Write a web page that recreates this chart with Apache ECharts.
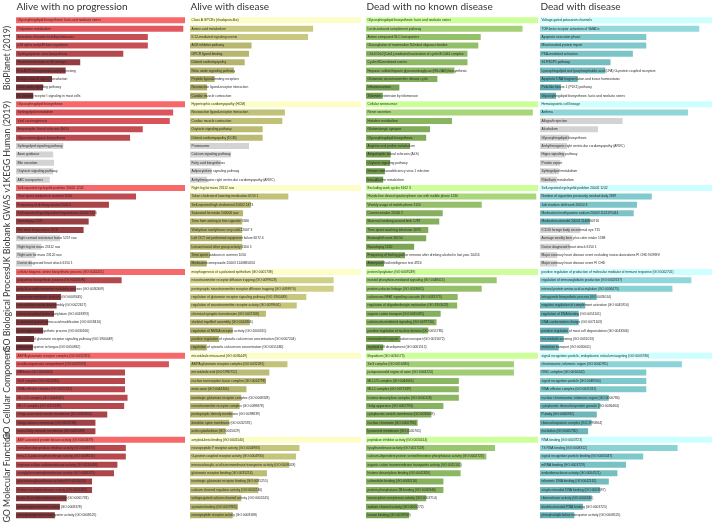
<!DOCTYPE html>
<html><head><meta charset="utf-8">
<script src="https://cdn.jsdelivr.net/npm/echarts/dist/echarts.min.js"></script>
<style>html,body{margin:0;padding:0;background:#fff}#c{width:717px;height:526px}</style>
</head><body><div id="c"></div>
<script>
// ---------------- DATA ----------------
const columnTitles = ["Alive with no progression", "Alive with disease", "Dead with no known disease", "Dead with disease"];
const groupNames = ["BioPlanet (2019)", "KEGG Human (2019)", "UK Biobank GWAS v1", "GO Biological Process", "GO Cellular Component", "GO Molecular Function"];

const labels1 = [
"Glycosphingolipid biosynthesis: lacto and neolacto series","Polyamine metabolism","Activation of matrix metalloproteinases","p38 alpha and p38 beta regulation","Sphingolipid de novo biosynthesis","Bacterial infections in CF airways","Pre-NOTCH expression and processing","Antigen-bound signal transduction","Nitric oxide signaling pathway","Fc epsilon receptor I signaling in mast cells",
"Glycosphingolipid biosynthesis","Sphingolipid metabolism","Viral carcinogenesis","Amyotrophic lateral sclerosis (ALS)","Glycosaminoglycan biosynthesis","Sphingolipid signaling pathway","Axon guidance","Bile secretion","Oxytocin signaling pathway","ABC transporters",
"Self-reported eye/eyelid problem 20002 1242","Time spent outdoors in summer 1050","Frequency of drinking alcohol 20414","Self-reported hypothyroidism/myxoedema 20002 1226","Narcolepsy 1220","Hot drink temperature 1518","Right corneal resistance factor 5257 raw","Right leg fat mass 23112 raw","Right arm fat mass 23120 raw","Doctor diagnosed heart attack 6150 1",
"cellular biogenic amine biosynthetic process (GO:0042401)","polyamine biosynthetic process (GO:0006596)","poly-N-acetyllactosamine metabolic process (GO:0030309)","putrescine metabolic process (GO:0009445)","extracellular matrix disassembly (GO:0022617)","internal peptidyl-lysine acetylation (GO:0018393)","C-terminal protein amino acid modification (GO:0018410)","proteoglycan biosynthetic process (GO:0030166)","regulation of glutamate receptor signaling pathway (GO:1900449)","defense response to fungus (GO:0050832)",
"AMPA glutamate receptor complex (GO:0032281)","insulin-responsive compartment (GO:0032593)","BBSome (GO:0034464)","Sin3 complex (GO:0016580)","RNAi effector complex (GO:0031332)","MLL1/2 complex (GO:0044665)","MLL1 complex (GO:0071339)","Golgi-associated vesicle membrane (GO:0030660)","Golgi cisterna membrane (GO:0032580)","trans-Golgi network membrane (GO:0032588)",
"AMP-activated protein kinase activity (GO:0004679)","metalloendopeptidase inhibitor activity (GO:0008191)","beta-1,3-galactosyltransferase activity (GO:0048531)","heparan sulfate sulfotransferase activity (GO:0034483)","acetylglucosaminyltransferase activity (GO:0008375)","glucuronosyltransferase activity (GO:0015020)","histone acetyltransferase activity (GO:0004402)","lysine N-acetyltransferase activity (GO:0061733)","galactosyltransferase activity (GO:0008378)","phosphatidylcholine transporter activity (GO:0008525)"];
const values1 = [
100,99,78,78,63.5,38,29.4,21.3,16,10.2,
100,93,91,75,67.5,28,22,22.5,22,20,
100,71,55,47,43,40,26,15,11.5,9.5,
100,62.5,35.5,26.6,24,22.5,19,16,10.7,10,
100,90.5,64.5,64.5,64.5,66,64,54,47,47,
100,65,65,60,58,45,45,30,26,23];
const signif1 = [
1,1,1,1,1,1,1,1,1,1, 1,1,1,1,1,0,0,0,0,0, 1,1,1,1,1,1,0,0,0,0,
1,1,1,1,1,1,1,1,1,1, 1,1,1,1,1,1,1,1,1,1, 1,1,1,1,1,1,1,1,1,1];

const labels2 = [
"Class A GPCRs (rhodopsin-like)","Amino acid metabolism","IL12-mediated signaling events","ACE inhibitor pathway","GPCR ligand binding","Dilated cardiomyopathy","Nitric oxide signaling pathway","Peptide ligand-binding receptors","Neuroactive ligand-receptor interaction","Cardiac muscle contraction",
"Hypertrophic cardiomyopathy (HCM)","Neuroactive ligand-receptor interaction","Cardiac muscle contraction","Oxytocin signaling pathway","Dilated cardiomyopathy (DCM)","Proteasome","Calcium signaling pathway","Fatty acid biosynthesis","Adipocytokine signaling pathway","Arrhythmogenic right ventricular cardiomyopathy (ARVC)",
"Right leg fat mass 23112 raw","Taken cholesterol lowering medication 6153 1","Self-reported high cholesterol 20002 1473","Saturated fat intake 100006 raw","Time from waking to first cigarette 3466","Workplace rarely/never very cold 22607 3","Left OCT not performed equipment failure 6072 4","Leisure/social other group activity 6160 5","Time spent outdoors in summer 1050","Medication omeprazole 20003 1140865634",
"morphogenesis of a polarized epithelium (GO:0001738)","neurotransmitter receptor diffusion trapping (GO:0099628)","postsynaptic neurotransmitter receptor diffusion trapping (GO:0098970)","regulation of glutamate receptor signaling pathway (GO:1900449)","regulation of neurotransmitter receptor activity (GO:0099601)","chemical synaptic transmission (GO:0007268)","skeletal myofibril assembly (GO:0014866)","regulation of NMDA receptor activity (GO:2000310)","positive regulation of cytosolic calcium ion concentration (GO:0007204)","regulation of cytosolic calcium ion concentration (GO:0051480)",
"microtubule minus-end (GO:0036449)","AMPA glutamate receptor complex (GO:0032281)","microtubule end (GO:1990752)","nuclear transcription factor complex (GO:0044798)","main axon (GO:0044304)","ionotropic glutamate receptor complex (GO:0008328)","neurotransmitter receptor complex (GO:0098878)","postsynaptic density membrane (GO:0098839)","dendritic spine membrane (GO:0032591)","actin cytoskeleton (GO:0015629)",
"amyloid-beta binding (GO:0001540)","neuropeptide Y receptor activity (GO:0004983)","G-protein coupled receptor activity (GO:0004930)","monocarboxylic acid transmembrane transporter activity (GO:0008028)","glutamate receptor binding (GO:0035254)","ionotropic glutamate receptor binding (GO:0035255)","calcium channel regulator activity (GO:0005246)","voltage-gated calcium channel activity (GO:0005245)","syntaxin binding (GO:0019905)","neuropeptide receptor activity (GO:0008188)"];
const values2 = [
100,72,69,36,34.5,32,25.7,14.4,10,10,
100,55.5,54,42.5,42.5,34.5,24,18,12.7,10,
100,57.5,35.7,31,30.5,30.5,30.5,30.5,11.7,9.8,
100,84,84,68,62.4,44.4,35,25,17,9.8,
100,57,46.4,44.4,33,30,29,25,23,21,
100,64,62,58,45,40,40,30,28,25];
const signif2 = [
1,1,1,1,1,1,1,1,1,1, 1,1,1,1,1,0,0,0,0,0, 1,1,1,1,1,1,1,1,1,1,
1,1,1,1,1,1,1,1,1,1, 1,1,1,1,1,1,1,1,1,1, 1,1,1,1,1,1,1,1,1,1];

const labels3 = [
"Glycosphingolipid biosynthesis: lacto and neolacto series","Lectin-induced complement pathway","Amine compound SLC transporters","Glucosylation of mammalian N-linked oligosaccharides","Chk1/Chk2(Cds1)-mediated inactivation of cyclin B:Cdk1 complex","Cyclin B2-mediated events","Heparan sulfate/heparin glycosaminoglycan (HS-GAG) biosynthesis","Glutamate neurotransmitter release cycle","Inflammasomes","Telomere extension by telomerase",
"Cellular senescence","Renin secretion","Histidine metabolism","Glutamatergic synapse","Glycosphingolipid biosynthesis","Arginine and proline metabolism","Amyotrophic lateral sclerosis (ALS)","Oxytocin signaling pathway","Human immunodeficiency virus 1 infection","beta-Alanine metabolism",
"Excluding work cycles 6162 3","Hands-free device/speakerphone use with mobile phone 1130","Weekly usage of mobile phone 1120","Current smoker 20116 2","Maternal smoking around birth 1787","Time spent watching television 1070","Eosinophill count 30150","Narcolepsy 1220","Frequency of feeling guilt or remorse after drinking alcohol in last year 20416","Attempted fluid intelligence test 4924",
"protein lipoylation (GO:0009249)","inositol phosphate-mediated signaling (GO:0048015)","protein-cofactor linkage (GO:0018065)","calcineurin-NFAT signaling cascade (GO:0033173)","regulation of oligodendrocyte maturation (GO:1903429)","organic cation transport (GO:0015695)","calcineurin-mediated signaling (GO:0097720)","positive regulation of nuclear division (GO:0051785)","monovalent inorganic cation transport (GO:0015672)","myeloid cell development (GO:0061515)",
"filopodium (GO:0030175)","Sin3 complex (GO:0016580)","juxtaparanodal region of axon (GO:0044224)","MLL1/2 complex (GO:0044665)","MLL1 complex (GO:0071339)","histone deacetylase complex (GO:0000118)","Golgi apparatus (GO:0005794)","cytoplasmic vesicle membrane (GO:0030659)","nuclear chromatin (GO:0000790)","lysosomal membrane (GO:0005765)",
"peptidase inhibitor activity (GO:0030414)","lipoyltransferase activity (GO:0017118)","calcium-dependent protein serine/threonine phosphatase activity (GO:0004723)","organic cation transmembrane transporter activity (GO:0015101)","histone deacetylase binding (GO:0042826)","calmodulin binding (GO:0005516)","protein phosphatase 2B binding (GO:0030346)","transcription corepressor activity (GO:0003714)","sodium channel activity (GO:0005272)","kinase binding (GO:0019900)"];
const values3 = [
100,91,66.7,65.3,59,59,51.4,41.5,19.4,9.7,
100,97,50,37.2,35,25.6,14.4,14,11,10,
100,99,67.3,44.6,42.6,36.2,35,28,22.7,10.5,
100,76,67.3,53.3,53,43.4,41,36.2,20,10,
100,86,86,54,54,54,45,38,30,25,
100,75,70,55,55,45,45,35,30,25];
const signif3 = [
1,1,1,1,1,1,1,1,1,1, 1,1,1,1,1,1,1,1,1,1, 1,1,1,1,1,1,1,1,1,1,
1,1,1,1,1,1,1,1,1,1, 1,1,1,1,1,1,1,1,1,1, 1,1,1,1,1,1,1,1,1,1];

const labels4 = [
"Voltage gated potassium channels","TGF-beta receptor activation of SMADs","Apoptotic execution phase","Mitochondrial protein import","PKA-mediated activation","S1P/S1P1 pathway","Lysosphingolipid and lysophosphatidic acid (LPA) G-protein coupled receptors","Apoptotic DNA fragmentation and tissue homeostasis","Polo-like kinase 1 (PLK1) pathway","Glycosphingolipid biosynthesis: lacto and neolacto series",
"Hematopoietic cell lineage","Asthma","Allograft rejection","Alcoholism","Glycosphingolipid biosynthesis","Arrhythmogenic right ventricular cardiomyopathy (ARVC)","Hippo signaling pathway","Protein export","Sphingolipid metabolism","Riboflavin metabolism",
"Self-reported eye/eyelid problem 20002 1242","Number of cigarettes previously smoked daily 2887","Job involves shift work 20010 3","Medication levothyroxine sodium 20003 1141191044","Medication atenolol 20003 1140860716","ICD10 foreign body on external eye T15","Average weekly beer plus cider intake 1588","Doctor diagnosed heart attack 6150 1","Major coronary heart disease event excluding revascularizations FI CHD NOREV","Major coronary heart disease event FI CHD",
"positive regulation of production of molecular mediator of immune response (GO:0002702)","regulation of immunoglobulin production (GO:0002637)","internal protein amino acid acetylation (GO:0006475)","tetrapyrrole biosynthetic process (GO:0033014)","negative regulation of complement activation (GO:0045916)","regulation of DNA binding (GO:0051101)","DNA conformation change (GO:0071103)","positive regulation of mast cell degranulation (GO:0043306)","microtubule severing (GO:0051013)","metal ion transport (GO:0030001)",
"signal recognition particle, endoplasmic reticulum targeting (GO:0005786)","chromosome, telomeric region (GO:0000781)","RISC complex (GO:0016442)","signal recognition particle (GO:0048500)","RNAi effector complex (GO:0031332)","nuclear chromosome, telomeric region (GO:0000784)","cytoplasmic ribonucleoprotein granule (GO:0036464)","P-body (GO:0000932)","ribonucleoprotein complex (GO:1990904)","nucleolus (GO:0005730)",
"RNA binding (GO:0003723)","7S RNA binding (GO:0008312)","signal recognition particle binding (GO:0005047)","mRNA binding (GO:0003729)","endoribonuclease activity (GO:0004521)","telomeric DNA binding (GO:0042162)","single-stranded DNA binding (GO:0003697)","ribonuclease activity (GO:0004540)","double-stranded RNA binding (GO:0003725)","phosphatidylcholine transporter activity (GO:0008525)"];
const values4 = [
100,92.6,61.8,61.8,54,41,38,22,12.2,9.3,
100,86,48,33.7,16.7,15.7,14.5,11.8,11,10,
100,65,56.4,54.5,29,23.4,19,17.6,10,10,
100,88,77,33,26.3,22.5,22.5,16.7,13.8,10.9,
100,82.5,61.8,61.8,61.8,40,35,33,30,28,
100,80,60,50,45,40,35,30,25,20];
const signif4 = [
1,1,1,1,1,1,1,1,1,1, 1,1,0,0,0,0,0,0,0,0, 1,1,1,1,1,0,0,0,0,0,
1,1,1,1,1,1,1,1,1,1, 1,1,1,1,1,1,1,1,1,1, 1,1,1,1,1,1,1,1,1,1];

// ---------------- LAYOUT / STYLE ----------------
const columns = [
  {labels: labels1, values: values1, sig: signif1},
  {labels: labels2, values: values2, sig: signif2},
  {labels: labels3, values: values3, sig: signif3},
  {labels: labels4, values: values4, sig: signif4}
];
const colLeft = [16, 190, 366, 540];
const colWidth = [169, 171, 172, 172];
const palettes = [
  {top: [247,104,106], hi: [228,88,95], lo: [98,44,46]},
  {top: [253,253,200], hi: [215,215,140], lo: [165,165,95]},
  {top: [204,255,153], hi: [170,215,122], lo: [105,145,70]},
  {top: [204,255,255], hi: [150,222,224], lo: [90,165,170]}
];
const GREY = '#d3d3d3';
const gridTop = 16.1, rowH = 8.387, nRows = 60;

function rgb(a){return 'rgb('+a.map(Math.round).join(',')+')';}
function colorFor(ci, i, v, s){
  if(!s) return GREY;
  const p = palettes[ci];
  if(i % 10 === 0) return rgb(p.top);
  const t = v/100;
  return rgb(p.lo.map((c,k)=>c + (p.hi[k]-c)*t));
}

const grid=[], xAxis=[], yAxis=[], series=[];
columns.forEach((col, ci)=>{
  grid.push({left: colLeft[ci], width: colWidth[ci], top: gridTop, height: rowH*nRows, containLabel:false});
  xAxis.push({type:'value', gridIndex:ci, min:0, max:100, show:false});
  yAxis.push({type:'category', gridIndex:ci, inverse:true, show:false, data: col.labels.map((_,i)=>String(i))});
  series.push({
    type:'bar', xAxisIndex:ci, yAxisIndex:ci, barWidth:6, silent:true,
    data: col.values.map((v,i)=>({value:v, itemStyle:{color: colorFor(ci,i,v,col.sig[i])}})),
    label:{show:true, position:'insideLeft', distance:1.6, fontSize:3.3, color:'#2a2a2a',
      fontFamily:'Liberation Sans', formatter:(p)=>col.labels[p.dataIndex]}
  });
});

const graphic = [];
columnTitles.forEach((t,ci)=>{
  graphic.push({type:'text', x: colLeft[ci]+0.5, y: 2, silent:true,
    style:{text:t, fontSize:10, fontFamily:'Lato', fill:'#333', textVerticalAlign:'top', verticalAlign:'top'}});
});
groupNames.forEach((t,gi)=>{
  const cy = gridTop + rowH*(gi*10+5);
  graphic.push({type:'text', x: 7, y: cy, rotation: Math.PI/2, silent:true,
    style:{text:t, fontSize:8.8, fontFamily:'Lato', fill:'#3c3c3c', textAlign:'center', align:'center', textVerticalAlign:'middle', verticalAlign:'middle'}});
});

const chart = echarts.init(document.getElementById('c'), null, {renderer:'canvas'});
chart.setOption({animation:false, grid, xAxis, yAxis, series, graphic});
</script>
</body></html>
